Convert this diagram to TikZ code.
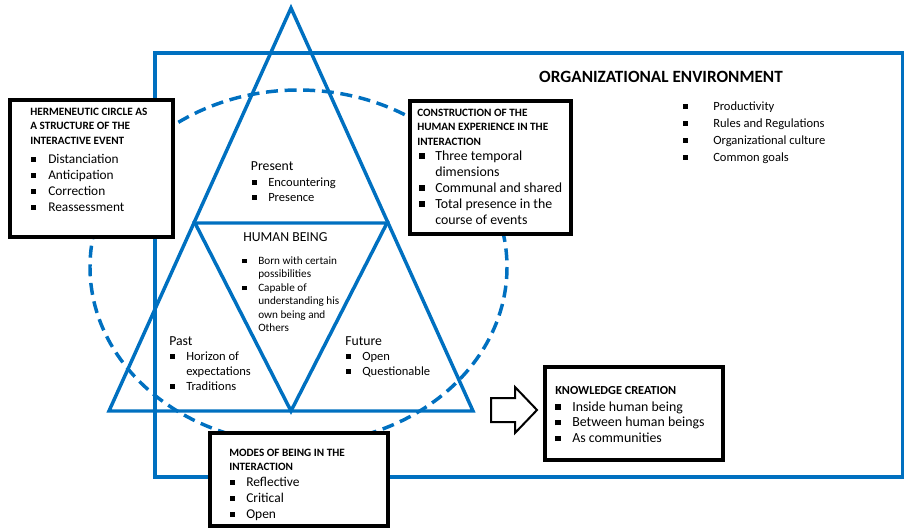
\documentclass[tikz,border=0pt]{standalone}
\usepackage{fontspec}
\setmainfont{Carlito}
\usetikzlibrary{positioning,fit,shapes.arrows}
\definecolor{orgblue}{RGB}{0,112,192}
\newcommand{\sq}{\rule[0.1em]{0.38em}{0.38em}}
\newcommand{\sqlist}[2]{\begin{tabular}[t]{@{}p{#1}@{}l@{}}#2\end{tabular}}
\newcommand{\heads}[1]{\begin{tabular}[t]{@{}l@{}}#1\end{tabular}}
\newcommand{\fs}[2]{\fontsize{#1}{#2}\selectfont}

\begin{document}
\begin{tikzpicture}[x=0.75pt,y=-0.75pt,
  blueline/.style={draw=orgblue,line width=2.6pt},
  infobox/.style={draw=black,line width=2.8pt,fill=white,inner sep=0pt},
  txt/.style={anchor=base west,inner sep=0pt},
  boxhead/.style={txt,font=\fs{8.4}{10.7}\bfseries},
  boxitems/.style={txt,font=\fs{10.1}{12}},
  trihead/.style={txt,font=\fs{10.3}{12}},
  triitems/.style={txt,font=\fs{9.4}{11.4}}]
\useasboundingbox (0,0) rectangle (904,529);

\draw[blueline] (155,53) rectangle (903,477);
\draw[blueline,dash pattern=on 9pt off 5pt] (298.5,267) ellipse [x radius=208.5, y radius=177];

\coordinate (top) at (291,8);
\coordinate (lowleft) at (109,411);
\coordinate (lowright) at (473,411);
\coordinate (midleft) at (195,223);
\coordinate (midright) at (387,223);
\coordinate (midlow) at (291,411);
\draw[blueline] (top)--(lowleft)--(lowright)--cycle;
\draw[blueline] (midleft)--(midright)--(midlow)--cycle;

\node[infobox,fit={(10,100)(173,237)}] (hermbox) {};
\node[infobox,fit={(410,101)(571,234)}] (constrbox) {};
\node[infobox,fit={(545,367)(723,460)}] (knowbox) {};
\node[infobox,fit={(210,433)(388,526)}] (modesbox) {};
\draw[line width=1.5pt,fill=white] (491,398)--(515,398)--(515,387)--(537,410)--(515,433)--(515,422)--(491,422)--cycle;

\node[anchor=base,inner sep=0pt,font=\fs{12.9}{15}\bfseries] (orghead) at (661,82.5) {ORGANIZATIONAL ENVIRONMENT};
\node[txt,font=\fs{9.4}{12.75}] (orglist) at (683,110) {\sqlist{22.5pt}{\sq & Productivity\\ \sq & Rules and Regulations\\ \sq & Organizational culture\\ \sq & Common goals}};

\node[boxhead] (hermhead) at (30,115.5) {\heads{HERMENEUTIC CIRCLE AS\\A STRUCTURE OF THE\\INTERACTIVE EVENT}};
\node[boxitems,font=\fs{10}{12}] (hermlist) at (31,163) {\sqlist{12.75pt}{\sq & Distanciation\\ \sq & Anticipation\\ \sq & Correction\\ \sq & Reassessment}};

\node[boxhead] (constrhead) at (417,116.5) {\heads{CONSTRUCTION OF THE\\HUMAN EXPERIENCE IN THE\\INTERACTION}};
\node[boxitems,font=\fs{10.4}{12}] (constrlist) at (419,160) {\sqlist{12pt}{\sq & Three temporal\\ & dimensions\\ \sq & Communal and shared\\ \sq & Total presence in the\\ & course of events}};

\node[boxhead,font=\fs{9.2}{11}\bfseries] (knowhead) at (555,394) {KNOWLEDGE CREATION};
\node[boxitems,font=\fs{10.4}{11.8}] (knowlist) at (555,411) {\sqlist{12.75pt}{\sq & Inside human being\\ \sq & Between human beings\\ \sq & As communities}};

\node[boxhead] (modeshead) at (229,456.5) {\heads{MODES OF BEING IN THE\\INTERACTION}};
\node[boxitems] (modeslist) at (230,486) {\sqlist{12pt}{\sq & Reflective\\ \sq & Critical\\ \sq & Open}};

\node[trihead] (presenthead) at (250.7,170) {Present};
\node[triitems] (presentlist) at (252,186) {\sqlist{12pt}{\sq & Encountering\\ \sq & Presence}};
\node[trihead] (humanhead) at (243,241.4) {HUMAN BEING};
\node[txt,font=\fs{8.4}{10.1}] (humanlist) at (242,264.3) {\sqlist{12pt}{\sq & Born with certain\\ & possibilities\\ \sq & Capable of\\ & understanding his\\ & own being and\\ & Others}};
\node[trihead] (pasthead) at (169,345) {Past};
\node[triitems] (pastlist) at (170,360) {\sqlist{12pt}{\sq & Horizon of\\ & expectations\\ \sq & Traditions}};
\node[trihead] (futurehead) at (345,345) {Future};
\node[triitems] (futurelist) at (346,360) {\sqlist{12pt}{\sq & Open\\ \sq & Questionable}};
\end{tikzpicture}
\end{document}
